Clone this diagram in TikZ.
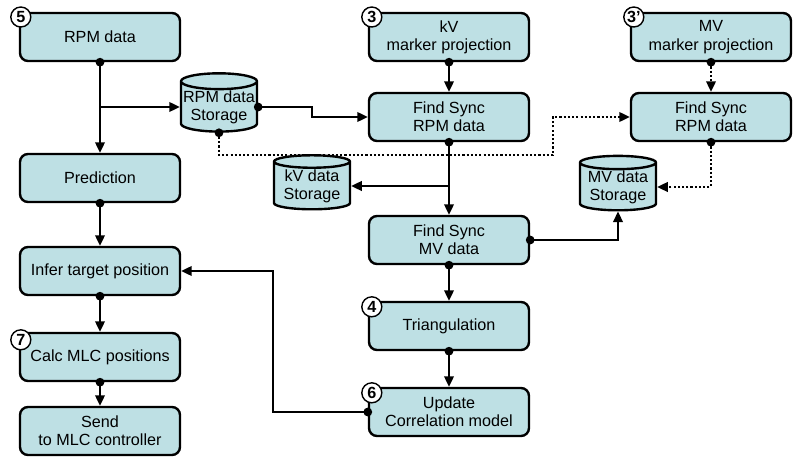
\documentclass[tikz,border=0pt]{standalone}
\usepackage{fontspec}
\setmainfont{Liberation Sans}
\usetikzlibrary{positioning,shapes,arrows.meta,calc}
\definecolor{boxfill}{RGB}{190,224,228}

\begin{document}
\begin{tikzpicture}[
  font=\fontsize{11.5}{13}\selectfont,
  block/.style={draw, line width=1.7pt, rounded corners=0.2cm, fill=boxfill,
    minimum width=4cm, minimum height=1.2cm, align=center, inner sep=1pt},
  store/.style={draw, line width=1.7pt, cylinder, shape border rotate=90, aspect=0.22,
    fill=boxfill, minimum width=1.9cm, minimum height=1.35cm, align=center, inner sep=0pt},
  badge/.style={draw, circle, line width=1pt, fill=white, inner sep=0pt,
    minimum size=0.5cm, font=\bfseries\fontsize{11.5}{11.5}\selectfont},
  link/.style={line width=1.5pt, -{Triangle[length=7.5pt,width=6.8pt]}},
  dotlink/.style={link, dash pattern=on 1.5pt off 1.5pt}
]
  \def\dotradius{0.11} % radius of the start dots
  \useasboundingbox (0,0) rectangle (20,-11.55);
  % left column
  \node[block] (rpm) at (2.5,-0.925) {RPM data};
  \node[block] (pred) at (2.5,-4.45) {Prediction};
  \node[block] (infer) at (2.5,-6.775) {Infer target position};
  \node[block] (calc) at (2.5,-8.925) {Calc MLC positions};
  \node[block] (send) at (2.5,-10.775) {Send\\to MLC controller};
  % middle column
  \node[block] (kv) at (11.225,-0.925) {kV\\marker projection};
  \node[block] (sync) at (11.225,-2.925) {Find Sync\\RPM data};
  \node[block] (syncmv) at (11.225,-6.0) {Find Sync\\MV data};
  \node[block] (tri) at (11.225,-8.15) {Triangulation};
  \node[block] (upd) at (11.225,-10.3) {Update\\Correlation model};
  % right column
  \node[block] (mv) at (17.775,-0.925) {MV\\marker projection};
  \node[block] (syncr) at (17.775,-2.925) {Find Sync\\RPM data};
  % storages
  \node[store] (rpmst) at (5.475,-2.675) {RPM data\\Storage};
  \node[store] (kvst) at (7.8,-4.65) {kV data\\Storage};
  \node[store] (mvst) at (15.45,-4.675) {MV data\\Storage};
  % numbers
  \node[badge] (n5) at ($(rpm.north west)+(0.05,-0.13)$) {5};
  \node[badge] (n3) at ($(kv.north west)+(0.1,-0.13)$) {3};
  \node[badge] (n3b) at ($(mv.north west)+(0.1,-0.13)$) {3'};
  \node[badge] (n7) at ($(calc.north west)+(0.05,-0.2)$) {7};
  \node[badge] (n4) at ($(tri.north west)+(0.1,-0.15)$) {4};
  \node[badge] (n6) at ($(upd.north west)+(0.1,-0.15)$) {6};
  \coordinate (dbend) at (13.825,-3.875);

  % connectors
  \draw[link] (rpm.south) -- (pred.north);
  \draw[link] (rpm.south |- rpmst.west) -- (rpmst.west);
  \draw[link] (pred.south) -- (infer.north);
  \draw[link] (infer.south) -- (calc.north);
  \draw[link] (calc.south) -- (send.north);
  \draw[link] (rpmst.east) -- (rpmst.east -| kvst.north) |- (sync.west);
  \draw[dotlink] (rpmst.south) |- (dbend) |- (syncr.west);
  \draw[link] (kv.south) -- (sync.north);
  \draw[link] (sync.south) -- (syncmv.north);
  \draw[link] (sync.south |- kvst.east) -- (kvst.east);
  \draw[dotlink] (mv.south) -- (syncr.north);
  \draw[dotlink] (syncr.south) |- (mvst.east);
  \draw[link] (syncmv.east) -| (mvst.south);
  \draw[link] (syncmv.south) -- (tri.north);
  \draw[link] (tri.south) -- (upd.north);
  \draw[link] (upd.west) -- (upd.west -| kvst.west) |- (infer.east);
  % start dots
  \foreach \p in {rpm.south, pred.south, infer.south, calc.south, rpmst.east,
      rpmst.south, kv.south, sync.south, mv.south, syncr.south, syncmv.east,
      syncmv.south, tri.south, upd.west} {
    \fill (\p) circle (\dotradius);
  }
\end{tikzpicture}
\end{document}
